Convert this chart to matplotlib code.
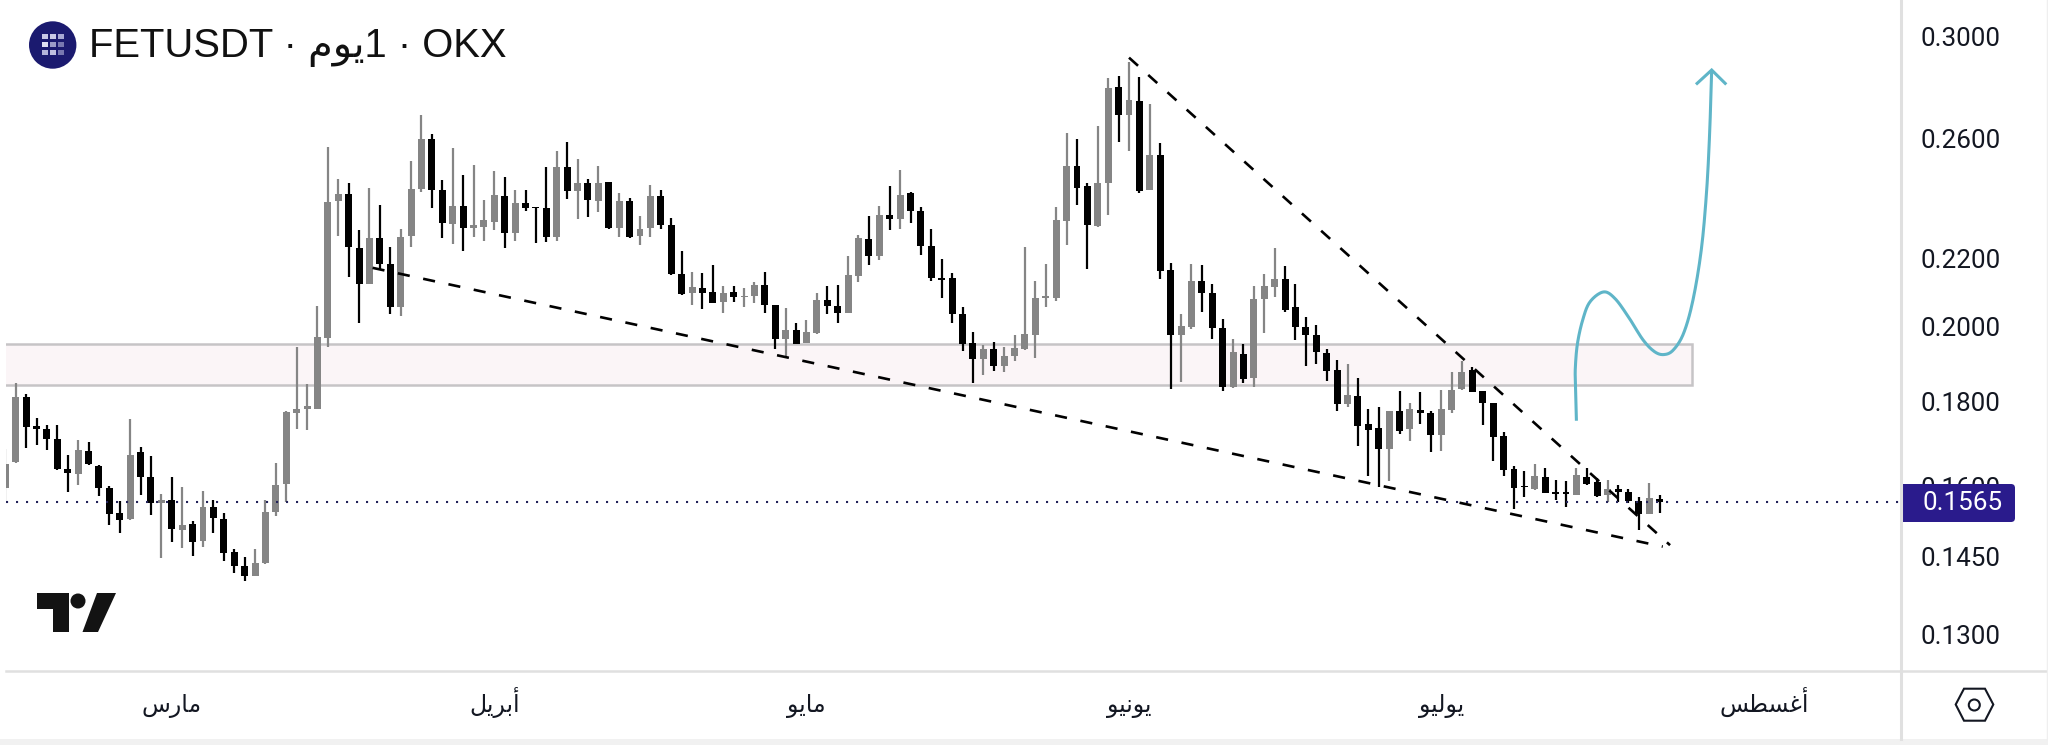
import numpy as np
import matplotlib
matplotlib.use('Agg')
import matplotlib.pyplot as plt
from matplotlib.patches import Rectangle, Circle, Polygon, FancyBboxPatch
from matplotlib.ticker import FixedLocator, NullLocator, FixedFormatter

plt.rcParams['font.family'] = ['Roboto', 'DejaVu Sans']

# daily candles, g = up (gray), b = down (black)
directions = ("ggbbbbbgbbbbgbbgbgbg" "bbbbgggggggggbbgbbgg" "gbbgbgggbgbbbgbgbgbg" "bggbbbgbbgbggbbgbggb"
              "bggbgbgbbbbbbbgbgggg" "gggbbggbgbgbbggbbbgb" "gggbbbbbbgbbbgbgbbgg" "gbbbbbbgbbbgbbgbbbgb")
highs = [.1686, .1848, .1821, .1760, .1742, .1742, .1671, .1706, .1701, .1647,
         .1600, .1567, .1757, .1690, .1669, .1582, .1620, .1598, .1523, .1589,
         .1570, .1540, .1466, .1449, .1465, .1570, .1652, .1777, .1944, .1846,
         .2058, .2570, .2458, .2443, .2288, .2428, .2369, .2235, .2292, .2520,
         .2689, .2617, .2456, .2567, .2471, .2508, .2387, .2486, .2464, .2421,
         .2421, .2365, .2499, .2558, .2588, .2527, .2458, .2502, .2447, .2410,
         .2393, .2334, .2438, .2421, .2327, .2224, .2157, .2155, .2179, .2118,
         .2118, .2110, .2127, .2157, .2062, .2051, .2010, .2017, .2097, .2118,
         .2120, .2206, .2274, .2333, .2366, .2435, .2489, .2413, .2364, .2292,
         .2198, .2155, .2054, .1985, .1949, .1957, .1943, .1976, .2235, .2132,
         .2183, .2364, .2621, .2599, .2444, .2648, .2833, .2838, .2894, .2835,
         .2730, .2586, .2187, .2035, .2183, .2179, .2122, .2022, .1966, .1951,
         .2118, .2153, .2232, .2177, .2122, .2026, .2003, .1937, .1908, .1897,
         .1862, .1782, .1787, .1778, .1827, .1796, .1825, .1777, .1829, .1876,
         .1906, .1890, .1828, .1798, .1726, .1645, .1635, .1649, .1640, .1613,
         .1612, .1640, .1640, .1619, .1613, .1602, .1593, .1576, .1606, .1579]
body_tops = [.1650, .1811, .1811, .1740, .1734, .1708, .1638, .1683, .1680, .1646,
             .1595, .1541, .1672, .1679, .1620, .1570, .1570, .1515, .1518, .1554,
             .1553, .1527, .1458, .1430, .1436, .1544, .1603, .1774, .1783, .1789,
             .1970, .2379, .2408, .2408, .2232, .2262, .2262, .2182, .2268, .2425,
             .2599, .2599, .2421, .2366, .2366, .2304, .2321, .2403, .2402, .2378,
             .2376, .2365, .2360, .2499, .2499, .2446, .2446, .2446, .2447, .2384,
             .2384, .2292, .2400, .2400, .2306, .2153, .2114, .2110, .2099, .2097,
             .2099, .2088, .2119, .2120, .2062, .1990, .1990, .1984, .2075, .2075,
             .2057, .2149, .2264, .2259, .2338, .2338, .2405, .2411, .2351, .2238,
             .2140, .2140, .2035, .1954, .1938, .1938, .1919, .1941, .1978, .2082,
             .2087, .2320, .2504, .2504, .2433, .2446, .2793, .2797, .2745, .2742,
             .2542, .2542, .2165, .2001, .2130, .2130, .2096, .1997, .1929, .1924,
             .2077, .2117, .2137, .2137, .2054, .2000, .1976, .1928, .1882, .1817,
             .1816, .1745, .1735, .1778, .1778, .1782, .1779, .1771, .1782, .1831,
             .1878, .1882, .1827, .1797, .1715, .1639, .1601, .1622, .1620, .1586,
             .1586, .1624, .1621, .1609, .1594, .1593, .1586, .1566, .1573, .1571]
body_bottoms = [.1595, .1654, .1737, .1734, .1708, .1638, .1630, .1628, .1649, .1595,
                .1539, .1526, .1528, .1620, .1563, .1563, .1507, .1504, .1480, .1481,
                .1529, .1456, .1431, .1411, .1411, .1436, .1544, .1605, .1771, .1781,
                .1783, .1968, .2383, .2235, .2123, .2123, .2182, .2056, .2056, .2270,
                .2424, .2421, .2310, .2308, .2296, .2297, .2300, .2315, .2279, .2280,
                .2361, .2361, .2268, .2267, .2419, .2419, .2388, .2385, .2295, .2295,
                .2267, .2269, .2295, .2306, .2153, .2093, .2095, .2096, .2067, .2069,
                .2083, .2083, .2087, .2061, .1965, .1965, .1952, .1955, .1982, .2058,
                .2038, .2039, .2147, .2207, .2207, .2324, .2324, .2351, .2238, .2141,
                .2134, .2035, .1953, .1911, .1911, .1892, .1892, .1919, .1938, .1977,
                .2082, .2082, .2319, .2429, .2304, .2302, .2446, .2690, .2690, .2418,
                .2421, .2161, .1976, .1976, .1998, .2097, .1996, .1837, .1837, .1858,
                .1860, .2079, .2114, .2047, .1998, .1976, .1929, .1879, .1795, .1794,
                .1740, .1731, .1684, .1684, .1729, .1732, .1771, .1719, .1719, .1780,
                .1832, .1826, .1797, .1714, .1637, .1596, .1597, .1593, .1585, .1582,
                .1582, .1580, .1605, .1578, .1580, .1586, .1567, .1539, .1539, .1565]
lows = [.1567, .1652, .1688, .1695, .1683, .1636, .1587, .1603, .1647, .1577,
        .1516, .1499, .1526, .1580, .1536, .1446, .1479, .1467, .1450, .1469,
        .1499, .1440, .1417, .1401, .1410, .1434, .1534, .1565, .1734, .1731,
        .1781, .1944, .2270, .2144, .2011, .2122, .2168, .2035, .2029, .2234,
        .2413, .2360, .2265, .2245, .2222, .2268, .2254, .2288, .2231, .2254,
        .2351, .2248, .2251, .2254, .2390, .2324, .2331, .2347, .2293, .2267,
        .2264, .2242, .2267, .2291, .2150, .2091, .2061, .2049, .2066, .2039,
        .2071, .2056, .2067, .2039, .1938, .1914, .1951, .1954, .1980, .2034,
        .2010, .2038, .2129, .2181, .2195, .2289, .2292, .2313, .2211, .2131,
        .2081, .2011, .1933, .1847, .1869, .1879, .1878, .1906, .1935, .1915,
        .2055, .2073, .2242, .2371, .2169, .2300, .2339, .2590, .2558, .2412,
        .2420, .2138, .1833, .1851, .1994, .2042, .1966, .1827, .1835, .1847,
        .1838, .1982, .2083, .2042, .1962, .1892, .1898, .1854, .1778, .1788,
        .1693, .1623, .1597, .1612, .1720, .1705, .1744, .1679, .1681, .1772,
        .1830, .1824, .1743, .1657, .1623, .1549, .1576, .1591, .1584, .1569,
        .1554, .1579, .1603, .1576, .1565, .1564, .1562, .1505, .1538, .1540]

last_price = 0.1565
price_ticks = [0.13, 0.145, 0.16, 0.18, 0.20, 0.22, 0.26, 0.30]
month_pos = [16, 47, 77, 108, 138, 169]
month_names = ['مارس', 'أبريل', 'مايو', 'يونيو', 'يوليو', 'أغسطس']

# drawings on the chart
zone_x = [-2, 162.1]
zone_y = [0.1843, 0.1952]
lower_x = [35.3, 159.3]
lower_y = [0.2171, 0.1470]
upper_x = [108.0, 160.0]
upper_y = [0.2913, 0.1473]
path_x = [151.0, 150.9, 150.9, 151.1, 151.6, 152.3, 153.6, 154.7, 156.0, 157.4, 158.5, 159.4, 160.3, 161.3, 162.2, 163.0, 163.5, 163.8, 164.0]
path_y = [.1753, .1847, .1890, .1953, .2018, .2070, .2099, .2080, .2027, .1963, .1931, .1923, .1935, .1981, .2075, .2226, .2410, .2617, .2863]
head_x = [162.6, 164.0, 165.3]
head_y = [.2810, .2863, .2810]


# matplotlib does no arabic shaping, so map to presentation forms in visual order
FORMS = {'ا': (0xFE8D, 0xFE8E), 'أ': (0xFE83, 0xFE84), 'ر': (0xFEAD, 0xFEAE), 'و': (0xFEED, 0xFEEE),
         'ب': (0xFE8F, 0xFE90, 0xFE91, 0xFE92), 'س': (0xFEB1, 0xFEB2, 0xFEB3, 0xFEB4),
         'ط': (0xFEC1, 0xFEC2, 0xFEC3, 0xFEC4), 'غ': (0xFECD, 0xFECE, 0xFECF, 0xFED0),
         'ل': (0xFEDD, 0xFEDE, 0xFEDF, 0xFEE0), 'م': (0xFEE1, 0xFEE2, 0xFEE3, 0xFEE4),
         'ن': (0xFEE5, 0xFEE6, 0xFEE7, 0xFEE8), 'ي': (0xFEF1, 0xFEF2, 0xFEF3, 0xFEF4)}


def shape(word):
    out = []
    for k, ch in enumerate(word):
        forms = FORMS[ch]
        after_join = k > 0 and len(FORMS[word[k - 1]]) == 4
        before_join = k < len(word) - 1 and len(forms) == 4
        out.append(chr(forms[after_join + 2 * before_join]))
    return ''.join(reversed(out))


# hand drawn curve: catmull-rom through the read points, in screen space
def smooth_screen(ax, xs, ys, n=12):
    p = ax.transData.transform(np.column_stack([xs, ys]))
    p = np.vstack([p[0], p, p[-1]])
    t = np.linspace(0, 1, n, endpoint=False)[:, None]
    segs = []
    for i in range(1, len(p) - 2):
        a, b, c, d = p[i - 1], p[i], p[i + 1], p[i + 2]
        segs.append(0.5 * (2 * b + (c - a) * t + (2 * a - 5 * b + 4 * c - d) * t ** 2 + (3 * b - a - 3 * c + d) * t ** 3))
    return np.vstack(segs + [p[-1]])


W, H = 2048, 745
fig = plt.figure(figsize=(W / 100, H / 100), dpi=100, facecolor='white')
ax = fig.add_axes([5.7 / W, (H - 671) / H, (1900 - 5.7) / W, 671 / H])
ax.set_yscale('log')
ax.set_xlim(0.038, 182.1)
ax.set_ylim(0.12353, 0.31576)

# zone
ax.add_patch(Rectangle((zone_x[0], zone_y[0]), zone_x[1] - zone_x[0], zone_y[1] - zone_y[0],
                       facecolor='#fbf5f7', edgecolor='#c6c4c6', linewidth=1.8, zorder=1))

# candles
x = np.arange(len(highs))
colors = ['#858585' if d == 'g' else '#000000' for d in directions]
ax.vlines(x, lows, highs, colors=colors, linewidth=1.6, zorder=3)
ax.bar(x, np.array(body_tops) - np.array(body_bottoms), bottom=body_bottoms, width=0.67,
       color=colors, linewidth=0, zorder=3)

# trend lines and last price
for lx, ly in [(lower_x, lower_y), (upper_x, upper_y)]:
    ax.plot(lx, ly, color='black', linewidth=1.9, dashes=(4.6, 5.2), dash_capstyle='butt', zorder=4)
ax.axhline(last_price, color='#23235a', linewidth=1.5, dashes=(1, 3.8), zorder=5)

# projected path
curve = ax.transData.inverted().transform(smooth_screen(ax, path_x, path_y))
ax.plot(curve[:, 0], curve[:, 1], color='#5fb5c8', linewidth=2.2, solid_capstyle='butt', zorder=4)
ax.plot(head_x, head_y, color='#5fb5c8', linewidth=2.2, solid_joinstyle='miter', zorder=4)

ax.yaxis.tick_right()
ax.yaxis.set_major_locator(FixedLocator(price_ticks))
ax.yaxis.set_major_formatter(FixedFormatter(['%.4f' % p for p in price_ticks]))
ax.yaxis.set_minor_locator(NullLocator())
ax.tick_params(axis='y', length=0, pad=14.9, labelsize=18.7, labelcolor='#131722')
ax.set_xticks(month_pos)
ax.set_xticklabels([shape(m) for m in month_names], fontsize=17, color='#131722', va='baseline')
ax.tick_params(axis='x', length=0, pad=29.5)
for s in ax.spines.values():
    s.set_visible(False)

# overlay in pixels: title, logo, frame, price tag
ov = fig.add_axes([0, 0, 1, 1], zorder=10)
ov.set_xlim(0, W)
ov.set_ylim(H, 0)
ov.axis('off')
ov.patch.set_alpha(0)

frame = '#e0e0e0'
ov.plot([5.7, 2046], [671, 671], color=frame, linewidth=1.8)
ov.plot([1900.5, 1900.5], [0, 739], color=frame, linewidth=2.2)
ov.plot([2046.5, 2046.5], [0, 739], color='#efefef', linewidth=1)
ov.add_patch(Rectangle((0, 739), W, 6, facecolor='#f1f1f1', edgecolor='none'))

ov.text(89, 57, 'FETUSDT · ' + shape('يوم') + '1 · OKX', fontsize=28.8, color='#111111', ha='left', va='baseline',
        family=['Liberation Sans', 'DejaVu Sans'])

# symbol icon
ov.add_patch(Circle((52.7, 45), 23.7, facecolor='#1b1a6f', edgecolor='none'))
cell_cols = ['#c8c8e6', '#c8c8e6', '#a8a8d4', '#e0e0f2', '#9c9cc8', '#7878b0', '#b4b4da', '#c0c0e0', '#7878b0']
for r, yy in enumerate([36.7, 44.7, 52.7]):
    for c, xx in enumerate([45, 53, 61]):
        ov.add_patch(Rectangle((xx - 2.7, yy - 2.7), 5.4, 5.4, facecolor=cell_cols[3 * r + c], edgecolor='none'))

# tradingview mark
logo = '#131313'
ov.add_patch(Polygon([(37.3, 593), (69.3, 593), (69.3, 632), (53, 632), (53, 609), (37.3, 609)], facecolor=logo, edgecolor='none'))
ov.add_patch(Circle((78, 601), 7.5, facecolor=logo, edgecolor='none'))
ov.add_patch(Polygon([(97, 593), (116, 593), (98, 632), (82.5, 632)], facecolor=logo, edgecolor='none'))

# last price tag
ov.add_patch(FancyBboxPatch((1902, 484), 113, 38, boxstyle='round,pad=0,rounding_size=4',
                            facecolor='#2a1b8c', edgecolor='none'))
ov.add_patch(Rectangle((1902, 484), 10, 38, facecolor='#2a1b8c', edgecolor='none'))
ov.text(1963, 503.5, '%.4f' % last_price, color='white', fontsize=18.7, ha='center', va='center')

# settings icon
ov.add_patch(Polygon([(1955.7, 704.5), (1964, 688.7), (1985, 688.7), (1993.3, 704.5), (1985, 720.7), (1964, 720.7)],
                     facecolor='none', edgecolor='#131722', linewidth=1.5))
ov.add_patch(Circle((1974.3, 705), 5.5, facecolor='none', edgecolor='#131722', linewidth=1.5))

fig.savefig('out.png', dpi=100)
